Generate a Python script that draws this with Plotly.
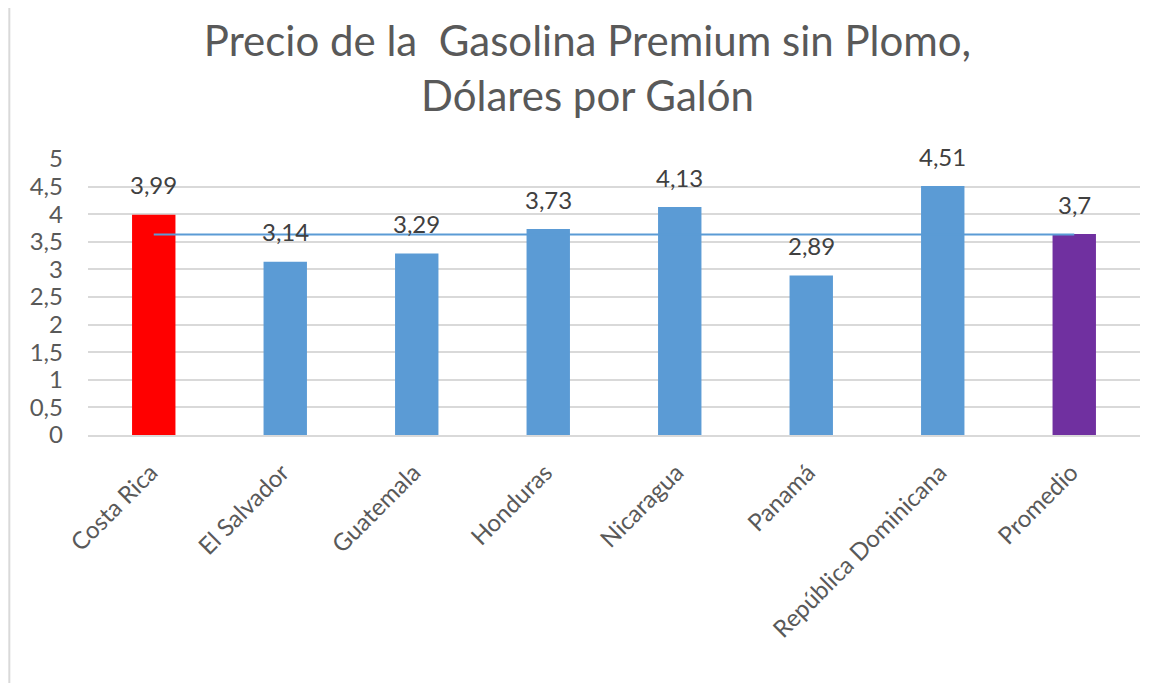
import plotly.graph_objects as go

# Data
paises = ['Costa Rica', 'El Salvador', 'Guatemala', 'Honduras', 'Nicaragua',
          'Panamá', 'República Dominicana', 'Promedio']
precios = [3.99, 3.14, 3.29, 3.73, 4.13, 2.89, 4.51, 3.64]
etiquetas = ['3,99', '3,14', '3,29', '3,73', '4,13', '2,89', '4,51', '3,7']
linea_promedio = [3.63] * len(paises)
colores = ['#FF0000', '#5B9BD5', '#5B9BD5', '#5B9BD5', '#5B9BD5',
           '#5B9BD5', '#5B9BD5', '#7030A0']
y_ticks = [0, 0.5, 1, 1.5, 2, 2.5, 3, 3.5, 4, 4.5, 5]

FONT = 'Lato, Open Sans, sans-serif'

fig = go.Figure()

fig.add_trace(go.Bar(
    x=paises,
    y=precios,
    marker=dict(color=colores, line=dict(width=0)),
    width=0.33,
    showlegend=False,
    hoverinfo='skip',
))

fig.add_trace(go.Scatter(
    x=paises,
    y=linea_promedio,
    mode='lines',
    line=dict(color='#5B9BD5', width=2),
    showlegend=False,
    hoverinfo='skip',
))

# Data labels above the bars
for pais, valor, txt in zip(paises, precios, etiquetas):
    fig.add_annotation(
        x=pais, y=valor, text=txt, showarrow=False,
        yshift=30, font=dict(size=24, color='#404040', family=FONT),
    )

# thin frame line at left edge
fig.add_shape(type='line', xref='paper', yref='paper',
              x0=-0.0748, x1=-0.0748, y0=-0.95, y1=1.6,
              line=dict(color='#d9d9d9', width=2))

fig.update_layout(
    title=dict(
        text='Precio de la  Gasolina Premium sin Plomo,<br>Dólares por Galón',
        x=0.5, xanchor='center', y=0.929, yanchor='top',
        font=dict(size=42, color='#595959', family=FONT),
    ),
    width=1159,
    height=675,
    margin=dict(l=80, r=27, t=151, b=248, autoexpand=False),
    plot_bgcolor='white',
    paper_bgcolor='white',
    separators=', ',
    bargap=0.67,
    xaxis=dict(
        tickangle=-45,
        tickfont=dict(size=24, color='#595959', family=FONT),
        ticklabelstandoff=12,
        ticklabelshift=-3,
        showgrid=False,
        showline=True,
        linecolor='#d9d9d9',
        linewidth=2,
        ticks='',
    ),
    yaxis=dict(
        range=[0, 5],
        tickvals=y_ticks,
        tickformat='.1~f',
        tickfont=dict(size=24, color='#595959', family=FONT),
        ticklabelstandoff=24,
        showgrid=True,
        gridcolor='#d9d9d9',
        gridwidth=2,
        zeroline=False,
        ticks='',
    ),
)

fig.write_html('out.html')
